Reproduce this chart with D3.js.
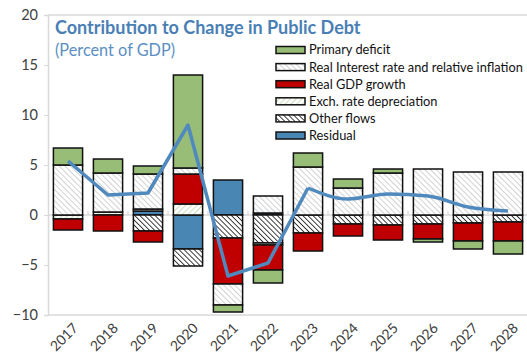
<!DOCTYPE html>
<html>
<head>
<meta charset="utf-8">
<script src="https://cdn.jsdelivr.net/npm/d3@7"></script>
<style>
  body { margin: 0; background: #fff; }
  svg { font-family: Lato, "Open Sans", sans-serif; }
</style>
</head>
<body>
<svg id="chart"></svg>
<script>
// values (percent of GDP)
const years = ["2017","2018","2019","2020","2021","2022","2023","2024","2025","2026","2027","2028"];
const primaryDeficit = [1.7, 1.4, 0.8, 9.3, -0.7, -1.3, 1.4, 0.9, 0.4, -0.3, -0.8, -1.3];
const realInterest   = [5.0, 3.9, 3.5, 0.6, -2.1, 1.7, 4.8, 2.7, 4.2, 4.6, 4.3, 4.3];
const realGdpGrowth  = [-1.1, -1.6, -1.1, 3.0, -4.6, -2.5, -1.8, -1.2, -1.5, -1.5, -1.8, -1.9];
const exchRate       = [-0.4, 0.3, 0.2, 1.1, 0, -0.2, 0, 0, 0, 0, 0, 0];
const otherFlows     = [0, 0, -1.6, -1.7, -2.3, -2.8, -1.8, -0.9, -1.0, -0.9, -0.8, -0.7];
const residual       = [0, 0, 0.4, -3.4, 3.5, 0.2, 0, 0, 0, 0, 0, 0];
const debtChange     = [5.4, 2.0, 2.2, 9.0, -6.1, -4.8, 2.7, 1.6, 2.1, 1.9, 0.8, 0.4];
const yTicks = [-10, -5, 0, 5, 10, 15, 20];

// series in stacking order (bottom first); legend lists them reversed
const series = [
  {key: "Residual", values: residual, fill: "#4a86b4"},
  {key: "Other flows", values: otherFlows, fill: "url(#hatchOther)"},
  {key: "Exch. rate depreciation", values: exchRate, fill: "url(#hatchExch)"},
  {key: "Real GDP growth", values: realGdpGrowth, fill: "#c00000"},
  {key: "Real Interest rate and relative inflation", values: realInterest, fill: "url(#hatchInterest)"},
  {key: "Primary deficit", values: primaryDeficit, fill: "#98bd77"}
];

const width = 527, height = 356;
const svg = d3.select("#chart").attr("width", width).attr("height", height);

// hatch patterns
const defs = svg.append("defs");
function hatch(id, bg, color, size, sw, angle) {
  const p = defs.append("pattern")
    .attr("id", id)
    .attr("patternUnits", "userSpaceOnUse")
    .attr("width", size).attr("height", size)
    .attr("patternTransform", `rotate(${angle})`);
  p.append("rect").attr("width", size).attr("height", size).attr("fill", bg);
  p.append("line").attr("x1", 0).attr("y1", 0).attr("x2", 0).attr("y2", size)
    .attr("stroke", color).attr("stroke-width", sw);
}
hatch("hatchInterest", "#fff", "#a6a6a6", 4, 1, -45);
hatch("hatchOther", "#fff", "#111", 3.6, 1.6, -45);
hatch("hatchExch", "#fff", "#9cc27a", 4, 1, 45);

const x = d3.scaleBand().domain(years).range([48, 528]).paddingInner(0.27).paddingOuter(0.135);
const y = d3.scaleLinear().domain([-10, 20]).range([315, 15]);

// frame lines
svg.append("line").attr("x1", 48).attr("x2", width).attr("y1", y(20)).attr("y2", y(20))
  .attr("stroke", "#d9d9d9").attr("stroke-width", 1.5);
svg.append("line").attr("x1", 48).attr("x2", width).attr("y1", y(-10)).attr("y2", y(-10))
  .attr("stroke", "#d9d9d9").attr("stroke-width", 1.5);

// y axis
const yAxis = d3.axisLeft(y).tickValues(yTicks).tickSize(4).tickPadding(6);
const yAxisG = svg.append("g").attr("transform", "translate(48,0)").call(yAxis);
yAxisG.select(".domain").attr("stroke", "#d9d9d9").attr("stroke-width", 1.5);
yAxisG.selectAll(".tick line").attr("stroke", "#d9d9d9");
yAxisG.selectAll("text").attr("font-size", 14.5).attr("fill", "#404040")
  .attr("font-family", "Lato, sans-serif");

// zero line with category ticks
svg.append("line").attr("x1", 48).attr("x2", width).attr("y1", y(0)).attr("y2", y(0))
  .attr("stroke", "#d9d9d9").attr("stroke-width", 1.5);
svg.selectAll(".cat-tick")
  .data(years.slice(1))
  .join("line")
    .attr("class", "cat-tick")
    .attr("x1", d => x(d) - x.step() * x.paddingInner() / 2)
    .attr("x2", d => x(d) - x.step() * x.paddingInner() / 2)
    .attr("y1", y(0)).attr("y2", y(0) - 4)
    .attr("stroke", "#d9d9d9").attr("stroke-width", 1.2);

// stacked bars
const table = years.map((yr, i) => {
  const row = {year: yr};
  series.forEach(s => row[s.key] = s.values[i]);
  return row;
});
const stacked = d3.stack()
  .keys(series.map(s => s.key))
  .offset(d3.stackOffsetDiverging)(table);

const chart = svg.append("g");
chart.selectAll("g.series")
  .data(stacked)
  .join("g")
    .attr("class", "series")
    .attr("fill", (d, i) => series[i].fill)
  .selectAll("rect")
  .data(d => d.filter(v => v[1] !== v[0]))
  .join("rect")
    .attr("x", d => x(d.data.year))
    .attr("width", x.bandwidth())
    .attr("y", d => y(Math.max(d[0], d[1])))
    .attr("height", d => Math.abs(y(d[0]) - y(d[1])))
    .attr("stroke", "#111")
    .attr("stroke-width", 1.5);

// change in debt line: straight through 2023, smooth afterwards
const pts = years.map((yr, i) => [x(yr) + x.bandwidth() / 2, y(debtChange[i])]);
svg.append("path")
  .attr("d", d3.line().curve(d3.curveLinear)(pts.slice(0, 7)))
  .attr("fill", "none").attr("stroke", "#5089bd").attr("stroke-width", 3.5)
  .attr("stroke-linejoin", "round");
svg.append("path")
  .attr("d", d3.line().curve(d3.curveMonotoneX)(pts.slice(6)))
  .attr("fill", "none").attr("stroke", "#5089bd").attr("stroke-width", 3.5)
  .attr("stroke-linejoin", "round");

// x labels
svg.selectAll(".year-label")
  .data(years)
  .join("text")
    .attr("class", "year-label")
    .attr("transform", d => `translate(${x(d) + x.bandwidth() / 2 + 4},${322}) rotate(-45)`)
    .attr("text-anchor", "end")
    .attr("dy", "0.7em")
    .attr("font-size", 14)
    .attr("fill", "#404040")
    .text(d => d);

// title
svg.append("text").attr("x", 55).attr("y", 34)
  .attr("font-size", 18).attr("font-weight", "bold").attr("fill", "#4a7fb5")
  .text("Contribution to Change in Public Debt");
svg.append("text").attr("x", 55).attr("y", 56)
  .attr("font-size", 16.3).attr("fill", "#5b8fc4")
  .text("(Percent of GDP)");

// legend
const legend = svg.append("g").attr("transform", "translate(276,50)");
const legendItems = series.slice().reverse();
const li = legend.selectAll("g")
  .data(legendItems)
  .join("g")
    .attr("transform", (d, i) => `translate(0,${i * 17.1})`);
li.append("rect")
  .attr("x", 0).attr("y", -3.5).attr("width", 29).attr("height", 7)
  .attr("fill", d => d.fill).attr("stroke", "#111").attr("stroke-width", 1.5);
li.append("text")
  .attr("x", 33).attr("y", 0).attr("dy", "0.35em")
  .attr("font-size", 12.8).attr("fill", "#111")
  .text(d => d.key);
</script>
</body>
</html>
